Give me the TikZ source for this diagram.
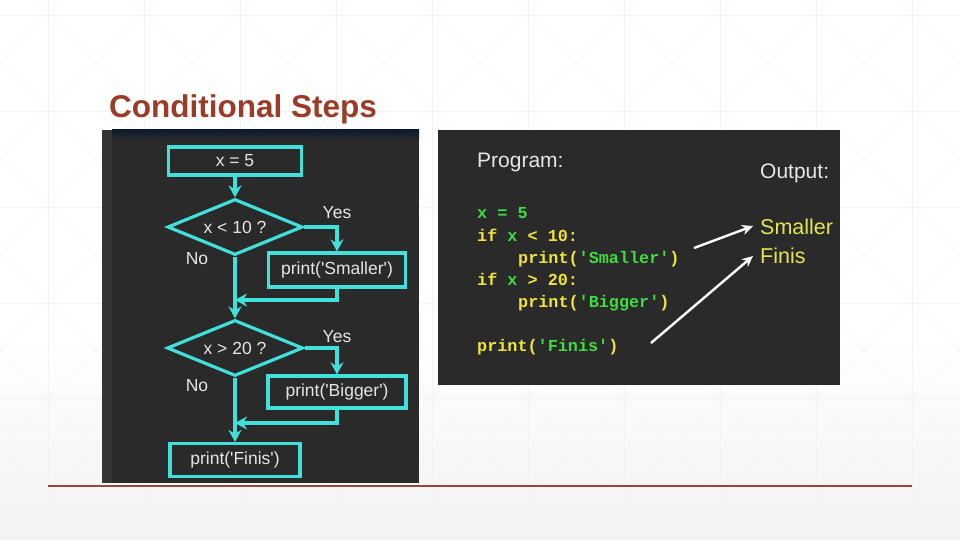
\documentclass[tikz,border=0pt]{standalone}
\usepackage{fontspec}
\setmainfont{Liberation Sans}[Ligatures=TeXOff]
\newfontfamily\codefont{Liberation Mono}[Ligatures=TeXOff]
\usetikzlibrary{shapes.geometric,arrows.meta,calc}
\definecolor{cyanc}{HTML}{42E0DA}
\definecolor{panelc}{HTML}{2A2A2A}
\definecolor{stripc}{HTML}{343434}
\definecolor{navyc}{HTML}{0C1A2E}
\definecolor{fgtext}{HTML}{E6E6E6}
\definecolor{cy}{HTML}{F0E43C}
\definecolor{cg}{HTML}{3EDC3E}
\definecolor{outy}{HTML}{E4E450}
\definecolor{titlec}{HTML}{9B3C28}
\definecolor{rulec}{HTML}{98483A}
\definecolor{gridc}{HTML}{F3F3F3}
\tikzset{
  fbox/.style={rectangle, draw=cyanc, line width=3.2pt, text=fgtext, inner sep=0pt,
    font=\fontsize{17.5}{20}\selectfont},
  fdia/.style={diamond, draw=cyanc, line width=3.2pt, text=fgtext, inner sep=0pt,
    font=\fontsize{17.5}{20}\selectfont},
  flabel/.style={text=fgtext, inner sep=0pt, font=\fontsize{17.5}{20}\selectfont},
  conn/.style={draw=cyanc, line width=3.2pt, -{Stealth[length=12pt,width=13pt,inset=4pt]}},
  wconn/.style={draw=white, line width=2.4pt, -{Stealth[length=11pt,width=10pt]}},
  codeline/.style={anchor=base west, inner sep=0pt, font=\codefont\bfseries\fontsize{16.8}{20}\selectfont},
  ptext/.style={anchor=base west, inner sep=0pt, text=fgtext, font=\fontsize{21}{24}\selectfont},
  otext/.style={anchor=base west, inner sep=0pt, text=outy, font=\fontsize{21.5}{24}\selectfont},
}
\begin{document}
\begin{tikzpicture}[x=1pt,y=-1pt]
\useasboundingbox (0,0) rectangle (960,540);
% background
\fill[white] (0,0) rectangle (960,540);
\shade[top color=white, bottom color=black!5] (0,340) rectangle (960,540);
\begin{scope}
\clip (0,0) rectangle (960,525);
\foreach \gx in {48,144,...,912} { \draw[gridc, line width=0.6pt] (\gx,0) -- (\gx,525); }
\foreach \gy in {15,111,...,495} { \draw[gridc, line width=0.6pt] (0,\gy) -- (960,\gy); }
\foreach \gx in {-48,48,...,912} {
  \foreach \gy in {-81,15,...,495} {
    \draw[gridc, line width=0.5pt] (\gx,\gy) -- ++(96,96);
    \draw[gridc, line width=0.5pt] (\gx+96,\gy) -- ++(-96,96);
  }
}
\end{scope}
% title
\node[anchor=base west, inner sep=0pt, text=titlec, font=\bfseries\fontsize{31.5}{36}\selectfont] (title) at (109,118) {Conditional Steps};
% panels
\fill[panelc] (102,130) rectangle (419,483);
\fill[stripc] (102,130) rectangle (112,483);
\shade[top color=navyc, bottom color=panelc] (112,130) rectangle (419,140);
\fill[panelc] (438,130) rectangle (840,385);
% rule
\draw[rulec, line width=2pt] (48,486) -- (912,486);
% flowchart
\node[fbox, minimum width=133pt, minimum height=28pt] (x5) at (235,161) {x = 5};
\node[fdia, minimum width=135pt, minimum height=56pt, aspect=2.4] (d1) at (235,227) {x < 10 ?};
\node[fbox, minimum width=137pt, minimum height=34pt] (sm) at (337,270) {print('Smaller')};
\node[fdia, minimum width=136pt, minimum height=56pt, aspect=2.4] (d2) at (235,348) {x > 20 ?};
\node[fbox, minimum width=138pt, minimum height=32pt] (bg) at (337,392) {print('Bigger')};
\node[fbox, minimum width=130pt, minimum height=33pt] (fi) at (235,460) {print('Finis')};
\node[flabel] (y1) at (337,213) {Yes};
\node[flabel] (n1) at (197,259) {No};
\node[flabel] (y2) at (337,337) {Yes};
\node[flabel] (n2) at (197,386) {No};
\coordinate (m1) at (235,300);
\coordinate (m2) at (235,423);
\draw[conn] (x5.south) -- (d1.north);
\draw[conn] (d1.east) -| (sm.north);
\draw[conn] (sm.south) |- (m1);
\draw[conn] (d1.south) -- (d2.north);
\draw[conn] (d2.east) -| (bg.north);
\draw[conn] (bg.south) |- (m2);
\draw[conn] (d2.south) -- (fi.north);
% program panel
\node[ptext] (prog) at (477,167.5) {Program:};
\node[ptext] (outp) at (760,178.5) {Output:};
\node[otext] (osm) at (760,234.5) {Smaller};
\node[otext] (ofi) at (760,263.5) {Finis};
\node[codeline] (c1) at (477,218) {\textcolor{cg}{x = 5}};
\node[codeline] (c2) at (477,241) {\textcolor{cy}{if} \textcolor{cg}{x} \textcolor{cy}{< 10:}};
\node[codeline] (c3) at (518,263) {\textcolor{cy}{print(}\textcolor{cg}{'Smaller'}\textcolor{cy}{)}};
\node[codeline] (c4) at (477,285) {\textcolor{cy}{if} \textcolor{cg}{x} \textcolor{cy}{> 20:}};
\node[codeline] (c5) at (518,307) {\textcolor{cy}{print(}\textcolor{cg}{'Bigger'}\textcolor{cy}{)}};
\node[codeline] (c6) at (477,351) {\textcolor{cy}{print(}\textcolor{cg}{'Finis'}\textcolor{cy}{)}};
\coordinate (a1) at (694,248);
\coordinate (a2) at (651,343);
\coordinate (e1) at (753,226);
\coordinate (e2) at (753,256);
\draw[wconn] (a1) -- (e1);
\draw[wconn] (a2) -- (e2);
\end{tikzpicture}
\end{document}
